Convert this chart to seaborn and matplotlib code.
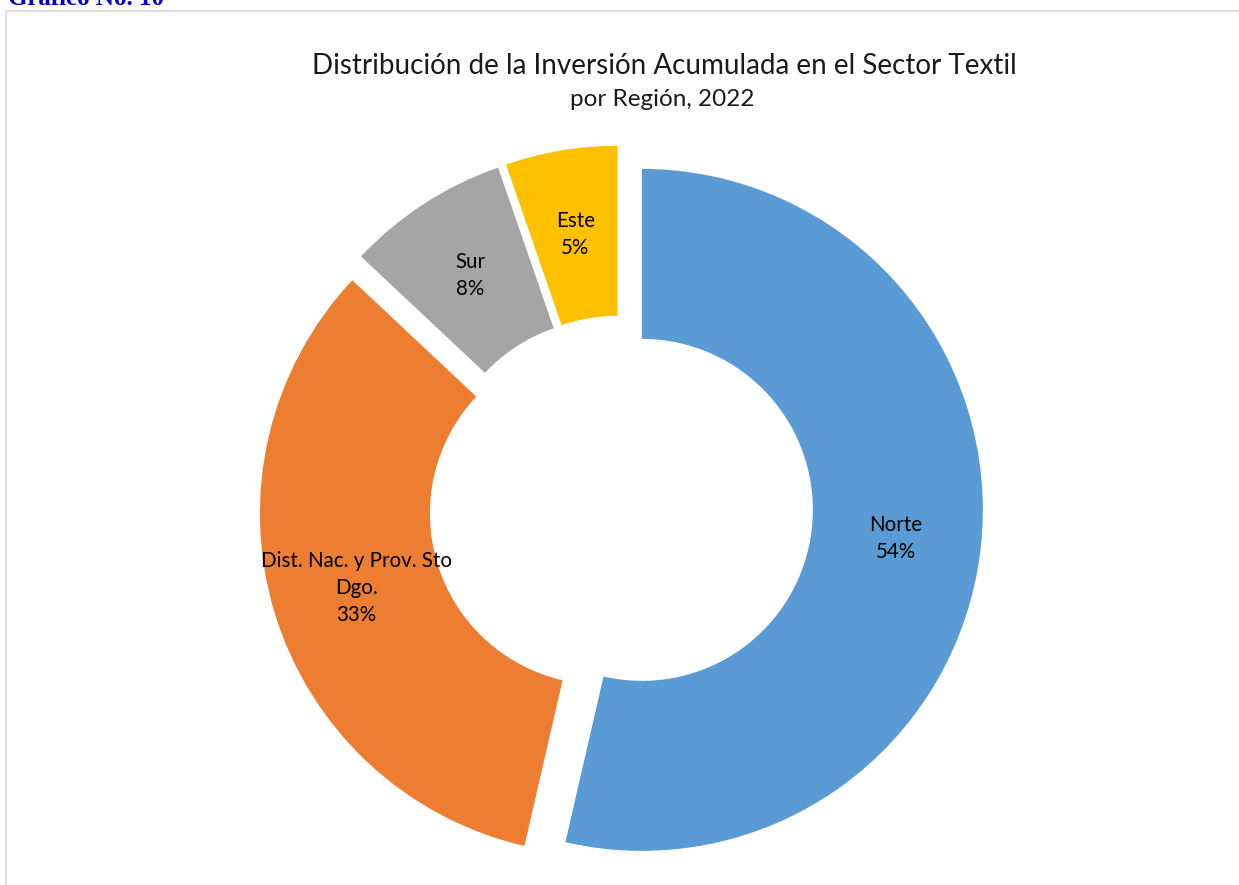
import matplotlib
matplotlib.use("Agg")
import matplotlib.pyplot as plt
import seaborn as sns
from matplotlib.patches import Rectangle

sns.set_theme(style="white")
plt.rcParams['font.family'] = ['Lato', 'DejaVu Sans']

regions = ["Norte", "Dist. Nac. y Prov. Sto\nDgo.", "Sur", "Este"]
values = [53.6, 33.4, 7.7, 5.3]
colors = ["#5B9BD5", "#ED7D31", "#A5A5A5", "#FFC000"]
title = "Distribución de la Inversión Acumulada en el Sector Textil"
subtitle = "por Región, 2022"
header = "Gráfico No. 10"

W, H = 1239, 885
fig = plt.figure(figsize=(W / 100, H / 100), dpi=100)
ax = fig.add_axes([0, 0, 1, 1])

# chart border
fig.patches.append(Rectangle((6 / W, -0.1), 1.1, (H - 11) / H + 0.1, transform=fig.transFigure,
                             fill=False, edgecolor="#D9D9D9", linewidth=1.2))

names = iter(regions)
wedges, texts, autotexts = ax.pie(
    values, colors=colors, startangle=90, counterclock=False,
    explode=[21] * len(values), radius=341, center=(621, H - 507.5),
    wedgeprops=dict(width=170, linewidth=0),
    autopct=lambda p: f"{next(names)}\n{p:.0f}%", pctdistance=0.75,
    textprops=dict(fontsize=14.8, color="black", multialignment="center", linespacing=1.45),
)
ax.set_xlim(0, W)
ax.set_ylim(0, H)
ax.set_aspect("equal")
ax.axis("off")

fig.text(664 / W, 1 - 66 / H, title, ha="center", va="center", fontsize=20, color="#1a1a1a")
fig.text(662 / W, 1 - 100 / H, subtitle, ha="center", va="center", fontsize=17.5, color="#1a1a1a")
fig.text(8 / W, 1 - 5 / H, header, ha="left", va="baseline", fontsize=18, fontweight="bold",
         color="#0000CC", family=["Liberation Serif", "DejaVu Serif"])

fig.savefig("out.png", dpi=100, facecolor="white")
